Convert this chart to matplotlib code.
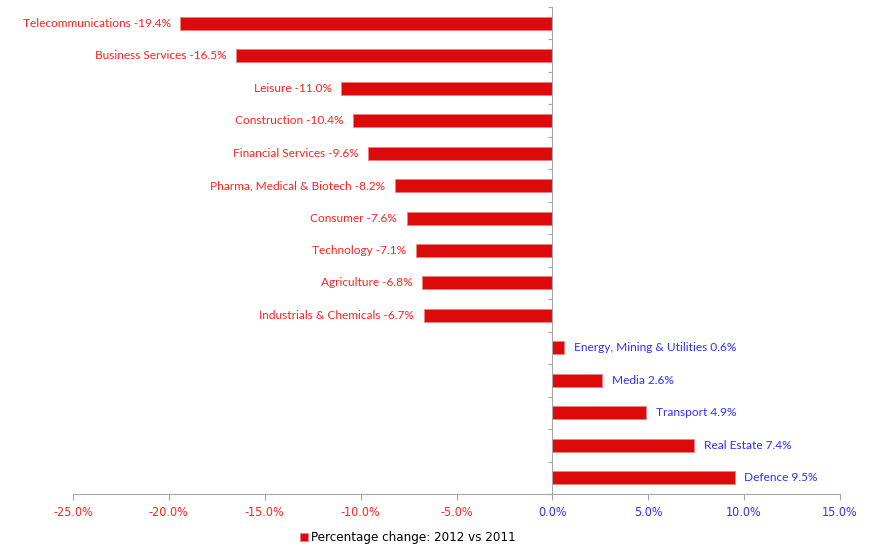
import matplotlib.pyplot as plt
from matplotlib import font_manager
import numpy as np

# Sectors, top to bottom
sectors = ["Telecommunications", "Business Services", "Leisure", "Construction",
           "Financial Services", "Pharma, Medical & Biotech", "Consumer", "Technology",
           "Agriculture", "Industrials & Chemicals", "Energy, Mining & Utilities",
           "Media", "Transport", "Real Estate", "Defence"]
changes = [-19.4, -16.5, -11.0, -10.4, -9.6, -8.2, -7.6, -7.1, -6.8, -6.7,
           0.6, 2.6, 4.9, 7.4, 9.5]
xticks = [-25, -20, -15, -10, -5, 0, 5, 10, 15]

BAR = "#DC0A0A"
NEG = "#FF2222"
POS = "#2F2FFF"
label_font = "Lato"

# look for a condensed font for the tick labels
names = {f.name for f in font_manager.fontManager.ttflist}
tick_font = "Liberation Sans"
tick_stretch = "normal"
for cand in ["Liberation Sans Narrow", "DejaVu Sans Condensed"]:
    if cand in names:
        tick_font = cand
        break
else:
    cond = [f for f in font_manager.fontManager.ttflist
            if f.name == "DejaVu Sans" and f.stretch == "condensed"]
    if cond:
        tick_font = "DejaVu Sans"
        tick_stretch = "condensed"

fig = plt.figure(figsize=(8.77, 5.56), dpi=100)
ax = fig.add_axes([73 / 877, 1 - 494 / 556, (840 - 73) / 877, (494 - 7) / 556])

y = np.arange(len(sectors))
ax.barh(y, changes, height=0.4, color=BAR, edgecolor="#F08080", linewidth=0.6,
        label="Percentage change: 2012 vs 2011")
ax.set_ylim(len(sectors) - 0.5, -0.5)
ax.set_xlim(-25, 15)

for yi, name, v in zip(y, sectors, changes):
    txt = f"{name} {v:.1f}%"
    if v < 0:
        ax.annotate(txt, (v, yi), xytext=(-7, 0), textcoords="offset points",
                    ha="right", va="center", color=NEG, fontsize=8.6, family=label_font)
    else:
        ax.annotate(txt, (v, yi), xytext=(7, 0), textcoords="offset points",
                    ha="left", va="center", color=POS, fontsize=8.6, family=label_font)

# axes styling
for s in ["top", "right"]:
    ax.spines[s].set_visible(False)
ax.spines["left"].set_position(("data", 0))
ax.spines["left"].set_color("#A6A6A6")
ax.spines["bottom"].set_color("#A6A6A6")
ax.set_yticks(np.arange(-0.5, len(sectors), 1.0))
ax.set_yticklabels([])
ax.tick_params(axis="y", length=3, color="#A6A6A6", direction="out")
ax.set_xticks(xticks)
ax.set_xticklabels([f"{t:.1f}%" for t in xticks], family=tick_font,
                   fontstretch=tick_stretch, fontsize=9)
ax.tick_params(axis="x", length=4, color="#A6A6A6", pad=5)
for t, lab in zip(xticks, ax.get_xticklabels()):
    lab.set_color(NEG if t < 0 else POS)

fig.legend(loc="center", bbox_to_anchor=(408 / 877, 1 - 538 / 556), frameon=False,
           handlelength=0.6, handleheight=0.6, handletextpad=0.2,
           prop={"family": tick_font, "stretch": tick_stretch, "size": 9.5})

fig.savefig("out.png", dpi=100)
